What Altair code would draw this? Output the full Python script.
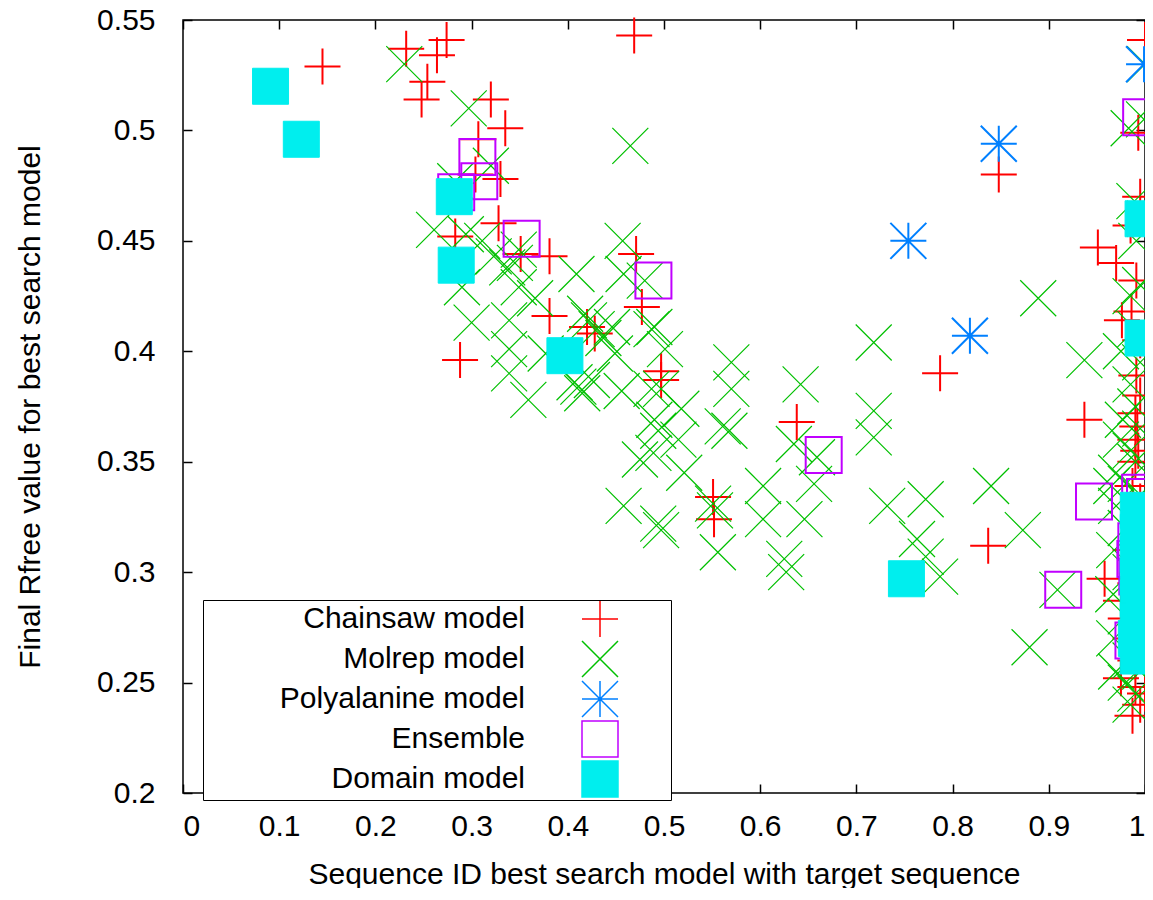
import altair as alt
import pandas as pd

SERIES = ["Chainsaw model", "Molrep model", "Polyalanine model", "Ensemble", "Domain model"]
COLORS = ["#ff0000", "#00c000", "#0080ff", "#c000ff", "#00eeee"]
FILLS = ["transparent", "transparent", "transparent", "transparent", "#00eeee"]
PLUS = "M-1,0L1,0M0,-1L0,1"
CROSS = "M-1,-1L1,1M-1,1L1,-1"
STAR = "M-1,0L1,0M0,-1L0,1M-1,-1L1,1M-1,1L1,-1"
SHAPES = [PLUS, CROSS, STAR, "square", "square"]

X_TICKS = [0, 0.1, 0.2, 0.3, 0.4, 0.5, 0.6, 0.7, 0.8, 0.9, 1]
Y_TICKS = [0.2, 0.25, 0.3, 0.35, 0.4, 0.45, 0.5, 0.55]

chainsaw = [
    (0.145, 0.529), (0.232, 0.537), (0.274, 0.541), (0.264, 0.534), (0.254, 0.522),
    (0.248, 0.514), (0.320, 0.514), (0.335, 0.501), (0.307, 0.496), (0.304, 0.480),
    (0.330, 0.478), (0.328, 0.458), (0.283, 0.452), (0.351, 0.444), (0.381, 0.443),
    (0.471, 0.444), (0.477, 0.420), (0.381, 0.416), (0.420, 0.411), (0.428, 0.408),
    (0.288, 0.396), (0.497, 0.391), (0.497, 0.387), (0.551, 0.334), (0.552, 0.324),
    (0.469, 0.543), (0.638, 0.368), (0.787, 0.390), (0.837, 0.312), (0.848, 0.480),
    (0.937, 0.369), (0.958, 0.297), (0.951, 0.447), (0.970, 0.440),
    (1.000, 0.541), (0.993, 0.499), (0.995, 0.470), (0.985, 0.457), (0.991, 0.432),
    (0.986, 0.418), (0.976, 0.414), (0.995, 0.405), (0.991, 0.389), (0.995, 0.380),
    (0.990, 0.372), (0.992, 0.366), (0.990, 0.360), (0.993, 0.355), (0.990, 0.350),
    (0.987, 0.339), (0.995, 0.332), (0.975, 0.287), (0.980, 0.279), (0.985, 0.270),
    (0.990, 0.260), (0.975, 0.252), (0.990, 0.248), (1.000, 0.245), (0.987, 0.235),
    (0.995, 0.240), (0.990, 0.295), (0.985, 0.310),
]

molrep = [
    (0.230, 0.530), (0.297, 0.510), (0.320, 0.484), (0.283, 0.477), (0.261, 0.455),
    (0.294, 0.453), (0.465, 0.493), (0.311, 0.450), (0.349, 0.446), (0.323, 0.443),
    (0.345, 0.440), (0.337, 0.438), (0.457, 0.450), (0.409, 0.435), (0.458, 0.435),
    (0.480, 0.432), (0.290, 0.429), (0.349, 0.429), (0.366, 0.424), (0.418, 0.417),
    (0.422, 0.414), (0.300, 0.413), (0.339, 0.414), (0.446, 0.411), (0.490, 0.411),
    (0.487, 0.410), (0.430, 0.410), (0.437, 0.406), (0.339, 0.401), (0.501, 0.401),
    (0.449, 0.399), (0.377, 0.399), (0.339, 0.390), (0.411, 0.384), (0.415, 0.381),
    (0.407, 0.386), (0.359, 0.378), (0.487, 0.383), (0.497, 0.383), (0.456, 0.382),
    (0.425, 0.387), (0.518, 0.374), (0.490, 0.369), (0.494, 0.364), (0.515, 0.360),
    (0.489, 0.354), (0.475, 0.351), (0.521, 0.345), (0.458, 0.330), (0.494, 0.322),
    (0.497, 0.319), (0.551, 0.331), (0.553, 0.328), (0.556, 0.309),
    (0.570, 0.395), (0.570, 0.383), (0.561, 0.366), (0.568, 0.364), (0.642, 0.385),
    (0.635, 0.358), (0.659, 0.352), (0.656, 0.340), (0.603, 0.339), (0.603, 0.324),
    (0.646, 0.324), (0.625, 0.306), (0.627, 0.300), (0.718, 0.404), (0.718, 0.373),
    (0.718, 0.361), (0.732, 0.330), (0.772, 0.333), (0.763, 0.315), (0.772, 0.307),
    (0.787, 0.298), (0.840, 0.339), (0.889, 0.424), (0.937, 0.396), (0.873, 0.319),
    (0.909, 0.292), (0.880, 0.266), (0.965, 0.339),
    (1.000, 0.530), (0.983, 0.501), (0.999, 0.505), (0.989, 0.468), (0.991, 0.450),
    (1.000, 0.460), (0.995, 0.430), (0.985, 0.425), (0.990, 0.410), (0.975, 0.400),
    (0.995, 0.395), (0.985, 0.385), (0.990, 0.375), (0.977, 0.369), (0.995, 0.365),
    (0.975, 0.360), (0.985, 0.355), (0.990, 0.350), (0.970, 0.345), (0.980, 0.340),
    (0.995, 0.335), (0.970, 0.330), (0.980, 0.320), (0.968, 0.310), (0.985, 0.300),
    (0.967, 0.290), (0.980, 0.280), (0.968, 0.270), (0.985, 0.260), (0.970, 0.255),
    (0.980, 0.250), (0.990, 0.245), (0.985, 0.240), (0.995, 0.255),
]

polyalanine = [(0.848, 0.494), (0.754, 0.450), (0.818, 0.407), (0.999, 0.530)]

ensemble = [
    (0.306, 0.488), (0.308, 0.477), (0.284, 0.472), (0.352, 0.451), (0.489, 0.432),
    (0.666, 0.353), (0.947, 0.332), (0.915, 0.292), (0.996, 0.506), (0.995, 0.336),
    (1.000, 0.334), (0.991, 0.314), (0.990, 0.306), (0.992, 0.298), (0.988, 0.269),
]

domain = [
    (0.091, 0.520), (0.123, 0.496), (0.282, 0.470), (0.284, 0.439), (0.397, 0.398),
    (0.752, 0.297), (0.998, 0.460), (0.998, 0.406),
    (0.993, 0.328), (0.993, 0.318), (0.993, 0.308), (0.993, 0.298), (0.993, 0.288),
    (0.993, 0.278), (0.991, 0.270), (0.993, 0.262), (1.000, 0.320), (1.000, 0.300),
    (1.000, 0.280),
]

rows = []
for name, pts in zip(SERIES, [chainsaw, molrep, polyalanine, ensemble, domain]):
    for x, y in pts:
        rows.append({"series": name, "seqid": x, "rfree": y})
df = pd.DataFrame(rows)

FONT = "Liberation Sans"
FS = 30
xscale = alt.Scale(domain=[0, 1], nice=False, zero=False)
yscale = alt.Scale(domain=[0.2, 0.55], nice=False, zero=False)

x_label_axis = alt.Axis(
    values=X_TICKS, format="~g", ticks=False, domain=False, grid=False,
    labelFont=FONT, labelFontSize=FS, labelColor="black", labelPadding=18,
    title="Sequence ID best search model with target sequence",
    titleFont=FONT, titleFontSize=FS, titleFontWeight="normal", titleColor="black",
    titleY=90, titleBaseline="alphabetic",
)
y_label_axis = alt.Axis(
    values=Y_TICKS, format="~g", ticks=False, domain=False, grid=False,
    labelFont=FONT, labelFontSize=FS, labelColor="black", labelPadding=28,
    title="Final Rfree value for best search model",
    titleFont=FONT, titleFontSize=FS, titleFontWeight="normal", titleColor="black",
    titleX=-153, titleBaseline="middle",
)


def tick_axis(values, orient):
    return alt.Axis(values=values, orient=orient, offset=-9, tickSize=9, tickWidth=1.5,
                    tickColor="black", labels=False, domain=False, grid=False, title=None)


LEGEND = alt.Legend(rowPadding={"expr": "-7"})


def layer(name, sw, xaxis, yaxis):
    return (
        alt.Chart(df)
        .transform_filter(alt.datum.series == name)
        .mark_point(size=1296, strokeWidth=sw, opacity=1)
        .encode(
            x=alt.X("seqid:Q", scale=xscale, axis=xaxis),
            y=alt.Y("rfree:Q", scale=yscale, axis=yaxis),
            stroke=alt.Stroke("series:N", scale=alt.Scale(domain=SERIES, range=COLORS),
                              title=" ", legend=LEGEND),
            fill=alt.Fill("series:N", scale=alt.Scale(domain=SERIES, range=FILLS),
                          title=" ", legend=LEGEND),
            shape=alt.Shape("series:N", scale=alt.Scale(domain=SERIES, range=SHAPES),
                            title=" ", legend=LEGEND),
        )
    )


chart = (
    alt.layer(
        layer(SERIES[0], 2, x_label_axis, y_label_axis),
        layer(SERIES[1], 1.2, tick_axis(X_TICKS, "bottom"), tick_axis(Y_TICKS, "left")),
        layer(SERIES[2], 2, tick_axis(X_TICKS, "top"), tick_axis(Y_TICKS, "right")),
        layer(SERIES[3], 2, None, None),
        layer(SERIES[4], 1, None, None),
    )
    .resolve_axis(x="independent", y="independent")
    .properties(
        width=962, height=773,
        autosize=alt.AutoSizeParams(type="none"),
        padding={"left": 175, "top": 12, "right": 0, "bottom": 95},
        background="white",
    )
    .configure_view(stroke="black", strokeWidth=1.5)
    .configure_legend(
        orient="none", legendX=20, legendY=580,
        strokeColor="black", fillColor="white", padding=0,
        symbolSize=1296, symbolStrokeWidth=1.5,
        labelFont=FONT, labelFontSize=FS, labelColor="black", labelAlign="right",
        labelLimit=500, symbolOffset=378, labelOffset={"expr": "-94"},
        titleOrient="right", titlePadding=50, titleFont=FONT, titleFontSize=FS,
    )
)

chart.save("out.html", embed_options={"renderer": "svg", "actions": False})
